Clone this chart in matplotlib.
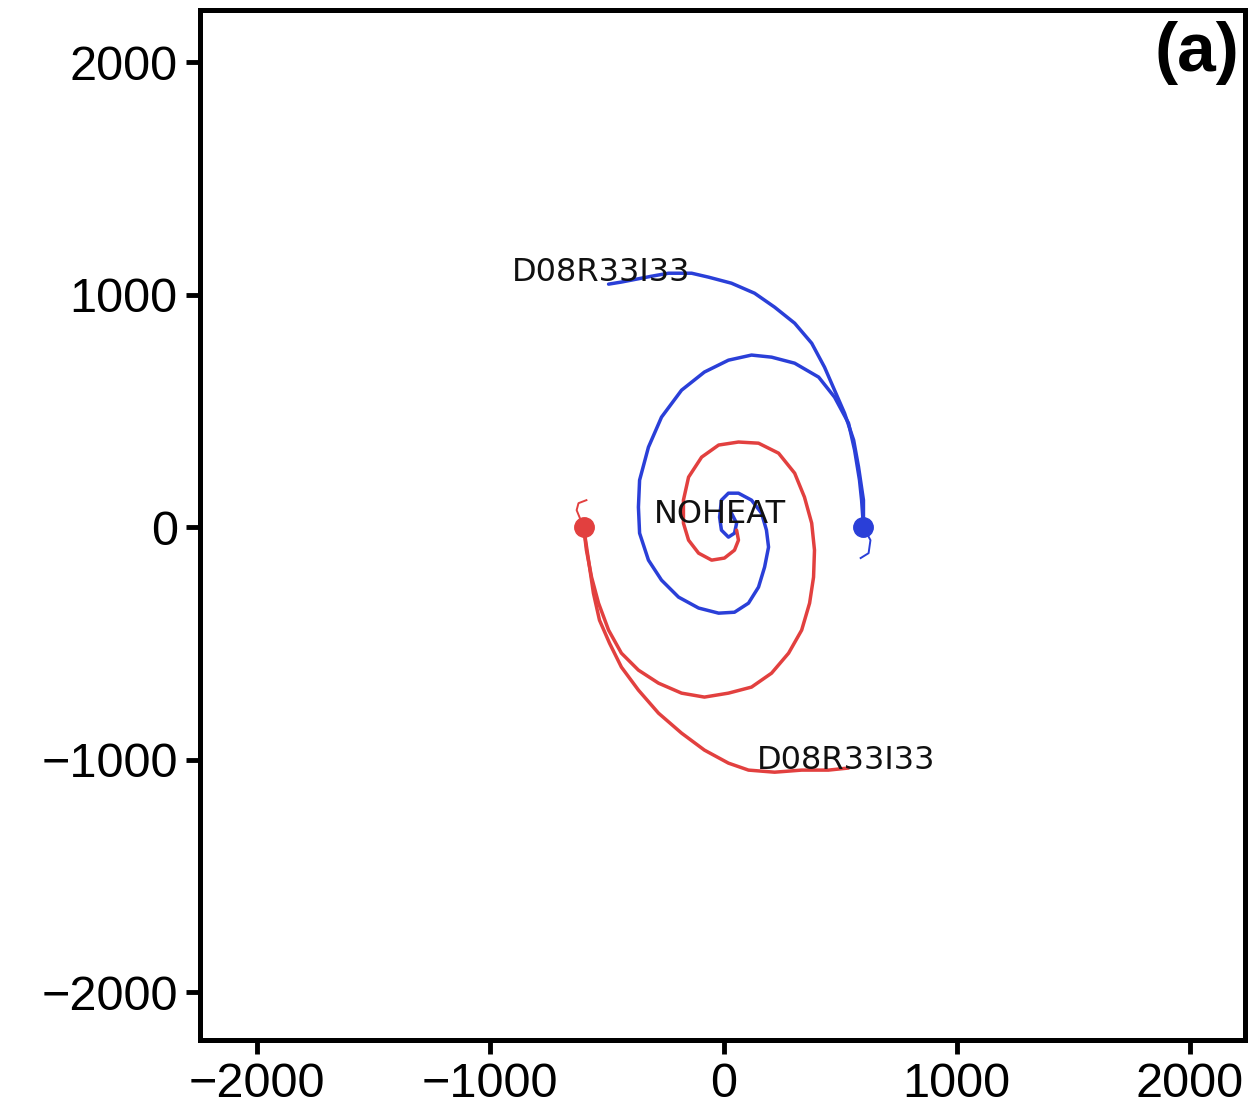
import matplotlib
matplotlib.use("Agg")
import matplotlib.pyplot as plt

# Vortex-centre tracks (m); both vortices start at (+600, 0) and (-600, 0)
blue_noheat_x = [600, 592, 583, 562, 536, 476, 408, 305, 206, 120, 21, -82, -180, -266, -322,
                 -360, -365, -360, -322, -266, -193, -107, -21, 47, 107, 150, 176, 193, 184,
                 163, 120, 64, 21, -9, -17, -9, 21, 47, 56, 34]
blue_noheat_y = [0, 116, 202, 331, 447, 559, 645, 705, 731, 740, 718, 667, 589, 473, 344,
                 202, 86, -26, -142, -228, -301, -348, -370, -366, -327, -258, -172, -86, -13,
                 60, 116, 146, 146, 116, 43, -13, -43, -26, 17, 60]

red_noheat_x = [-600, -588, -566, -536, -493, -438, -365, -279, -180, -82, 21, 120, 206, 279,
                335, 369, 386, 390, 378, 347, 305, 236, 150, 64, -21, -94, -150, -172, -172,
                -150, -107, -51, 4, 47, 64, 56]
red_noheat_y = [0, -99, -215, -327, -443, -542, -615, -671, -714, -731, -714, -688, -628, -542,
                -443, -327, -215, -99, 17, 129, 232, 318, 361, 366, 353, 301, 215, 116, 17,
                -56, -112, -142, -133, -99, -56, -13]

blue_heat_x = [600, 600, 579, 558, 519, 476, 433, 378, 305, 219, 133, 34, -64, -137, -236,
               -309, -438, -493]
blue_heat_y = [0, 116, 258, 374, 490, 589, 688, 791, 877, 946, 1006, 1049, 1075, 1092, 1092,
               1079, 1054, 1045]

red_heat_x = [-600, -579, -558, -532, -489, -438, -365, -279, -180, -82, 21, 107, 219, 335,
              450, 536]
red_heat_y = [0, -142, -284, -400, -499, -602, -701, -800, -886, -959, -1015, -1045, -1054,
              -1045, -1045, -1036]

# Short early-time hooks next to the initial positions
blue_hook_x = [600, 630, 622, 588]
blue_hook_y = [0, -56, -112, -133]
red_hook_x = [-600, -630, -622, -588]
red_hook_y = [0, 73, 103, 116]

start_x = [600, -600]
start_y = [0, 0]

ticks = [-2000, -1000, 0, 1000, 2000]
tick_labels = ["\u22122000", "\u22121000", "0", "1000", "2000"]

BLUE = "#2a3fd8"
RED = "#e2403f"

plt.rcParams["font.family"] = ["Liberation Sans", "DejaVu Sans"]

fig = plt.figure(figsize=(12.54, 11.12), dpi=100)
ax = fig.add_axes([0.1595, 0.0647, 0.8333, 0.9263])

style = dict(lw=2.5, solid_capstyle="round", solid_joinstyle="round")
ax.plot(blue_noheat_x, blue_noheat_y, color=BLUE, **style)
ax.plot(blue_heat_x, blue_heat_y, color=BLUE, **style)
ax.plot(red_noheat_x, red_noheat_y, color=RED, **style)
ax.plot(red_heat_x, red_heat_y, color=RED, **style)
ax.plot(blue_hook_x, blue_hook_y, color=BLUE, lw=1.4)
ax.plot(red_hook_x, red_hook_y, color=RED, lw=1.4)
ax.plot(start_x[0], start_y[0], "o", color=BLUE, ms=14)
ax.plot(start_x[1], start_y[1], "o", color=RED, ms=14)

label_font = dict(fontsize=23, family="DejaVu Sans", color="#111111", ha="left", va="center")
ax.text(-909, 1096, "D08R33I33", **label_font)
ax.text(142, -1002, "D08R33I33", **label_font)
ax.text(-300, 56, "NOHEAT", **label_font)
ax.text(0.995, 0.958, "(a)", transform=ax.transAxes, fontsize=50, fontweight="bold",
        ha="right", va="center")

ax.set_xlim(-2245, 2236)
ax.set_ylim(-2206, 2224)
ax.set_xticks(ticks)
ax.set_xticklabels(tick_labels)
ax.set_yticks(ticks)
ax.set_yticklabels(tick_labels)
ax.tick_params(direction="out", length=10, width=3.5, labelsize=35, pad=6)
for s in ax.spines.values():
    s.set_linewidth(3.6)

fig.savefig("out.png", dpi=100)
